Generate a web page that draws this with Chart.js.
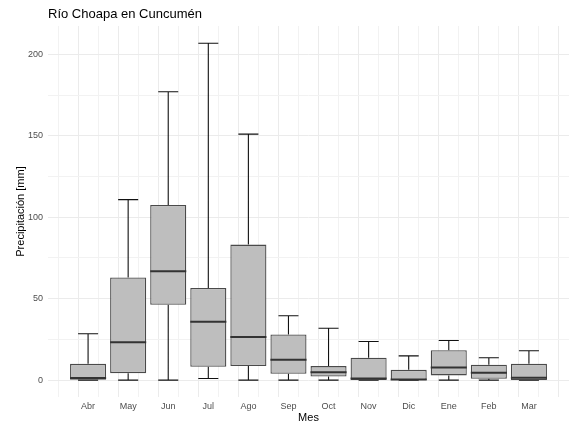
<!DOCTYPE html>
<html>
<head>
<meta charset="utf-8">
<script src="https://cdn.jsdelivr.net/npm/chart.js@4.4.1/dist/chart.umd.min.js"></script>
<style>
  html, body { margin: 0; padding: 0; background: #ffffff; }
  #wrap { width: 577px; height: 428px; }
</style>
</head>
<body>
<div id="wrap"><canvas id="c" width="577" height="428"></canvas></div>
<script>
// Data (Precipitación [mm] por mes)
const months  = ["Abr","May","Jun","Jul","Ago","Sep","Oct","Nov","Dic","Ene","Feb","Mar"];
const mins    = [0,    0,    0,    1.0,  0,    0,    0,    0,    0,    0,    0,    0];
const q1s     = [0.2,  4.3,  46.2, 8.2,  8.6,  3.9,  2.2,  0.1,  0.1,  2.9,  0.8,  0.1];
const medians = [1.3,  23.3, 66.8, 35.8, 26.5, 12.5, 4.9,  1.0,  0.4,  7.8,  4.5,  1.4];
const q3s     = [10.0, 63.0, 107.5,56.6, 83.2, 28.0, 8.6,  13.7, 6.3,  18.4, 9.4,  10.0];
const maxs    = [28.5, 110.8,177.0,206.8,151.0,39.5, 31.8, 23.7, 14.9, 24.3, 13.7, 18.0];
const yTickLabels = [0, 50, 100, 150, 200];

const capHalf = 0.25;   // whisker cap half-width (category units)
const boxHalf = 0.45;   // box half-width (category units)

const boxData = months.map((m, i) => ({ x: i + 1, y: [q1s[i], q3s[i]] }));

const whiskerData = [];
months.forEach((m, i) => {
  const x = i + 1;
  whiskerData.push({ x: x, y: q3s[i] }, { x: x, y: maxs[i] }, { x: x, y: null });
  whiskerData.push({ x: x - capHalf, y: maxs[i] }, { x: x + capHalf, y: maxs[i] }, { x: x, y: null });
  whiskerData.push({ x: x, y: q1s[i] }, { x: x, y: mins[i] }, { x: x, y: null });
  whiskerData.push({ x: x - capHalf, y: mins[i] }, { x: x + capHalf, y: mins[i] }, { x: x, y: null });
});

const medianData = [];
months.forEach((m, i) => {
  const x = i + 1;
  medianData.push({ x: x - boxHalf, y: medians[i] }, { x: x + boxHalf, y: medians[i] }, { x: x, y: null });
});

const FONT = "'Liberation Sans', Arial, sans-serif";

new Chart(document.getElementById('c'), {
  type: 'bar',
  data: {
    datasets: [
      {
        type: 'line',
        label: 'median',
        xAxisID: 'x',
        data: medianData,
        borderColor: '#333333',
        borderWidth: 2,
        pointRadius: 0,
        spanGaps: false,
        tension: 0,
        order: 0
      },
      {
        label: 'box',
        xAxisID: 'xb',
        data: boxData,
        backgroundColor: '#BEBEBE',
        borderColor: '#4a4a4a',
        borderWidth: 1.3,
        borderSkipped: false,
        grouped: false,
        categoryPercentage: 1.0,
        barPercentage: 0.9,
        order: 1
      },
      {
        type: 'line',
        label: 'whisker',
        xAxisID: 'x',
        data: whiskerData,
        borderColor: '#111111',
        borderWidth: 1.1,
        pointRadius: 0,
        spanGaps: false,
        tension: 0,
        order: 2
      }
    ]
  },
  options: {
    responsive: false,
    animation: false,
    events: [],
    layout: { padding: { left: 0, right: 8, top: 0, bottom: 0 } },
    plugins: {
      legend: { display: false },
      tooltip: { enabled: false },
      title: {
        display: true,
        text: 'Río Choapa en Cuncumén',
        align: 'start',
        fullSize: false,
        color: '#000000',
        font: { family: FONT, size: 13, weight: 'normal' },
        padding: { top: 7, bottom: 3.4 }
      }
    },
    scales: {
      x: {
        type: 'linear',
        min: 0,
        max: 13,
        offset: false,
        border: { display: false },
        grid: {
          drawTicks: false,
          color: (ctx) => (ctx.tick && Number.isInteger(ctx.tick.value)) ? '#EBEBEB' : '#F2F2F2',
          lineWidth: 1
        },
        ticks: {
          stepSize: 0.5,
          autoSkip: false,
          maxRotation: 0,
          includeBounds: true,
          padding: 4,
          color: '#4D4D4D',
          font: { family: FONT, size: 9 },
          callback: (v) => (Number.isInteger(v) && v >= 1 && v <= months.length) ? months[v - 1] : ''
        },
        title: {
          display: true,
          text: 'Mes',
          color: '#000000',
          font: { family: FONT, size: 11 },
          padding: { top: 0, bottom: 3 }
        },
        afterFit: (s) => { s.height = 31; }
      },
      xb: {
        type: 'linear',
        position: 'bottom',
        min: 0,
        max: 13,
        offset: false,
        display: false,
        ticks: { stepSize: 1 }
      },
      y: {
        type: 'linear',
        min: -10.35,
        max: 217.35,
        border: { display: false },
        grid: {
          drawTicks: false,
          color: (ctx) => (ctx.tick && yTickLabels.includes(ctx.tick.value)) ? '#EBEBEB' : '#F2F2F2',
          lineWidth: 1
        },
        ticks: {
          stepSize: 25,
          includeBounds: false,
          padding: 5,
          color: '#4D4D4D',
          font: { family: FONT, size: 9 },
          callback: (v) => yTickLabels.includes(v) ? String(v) : ''
        },
        title: {
          display: true,
          text: 'Precipitación [mm]',
          color: '#000000',
          font: { family: FONT, size: 11 },
          padding: { top: 14, bottom: 0 }
        },
        afterFit: (s) => { s.width = 48; }
      }
    }
  }
});
</script>
</body>
</html>
